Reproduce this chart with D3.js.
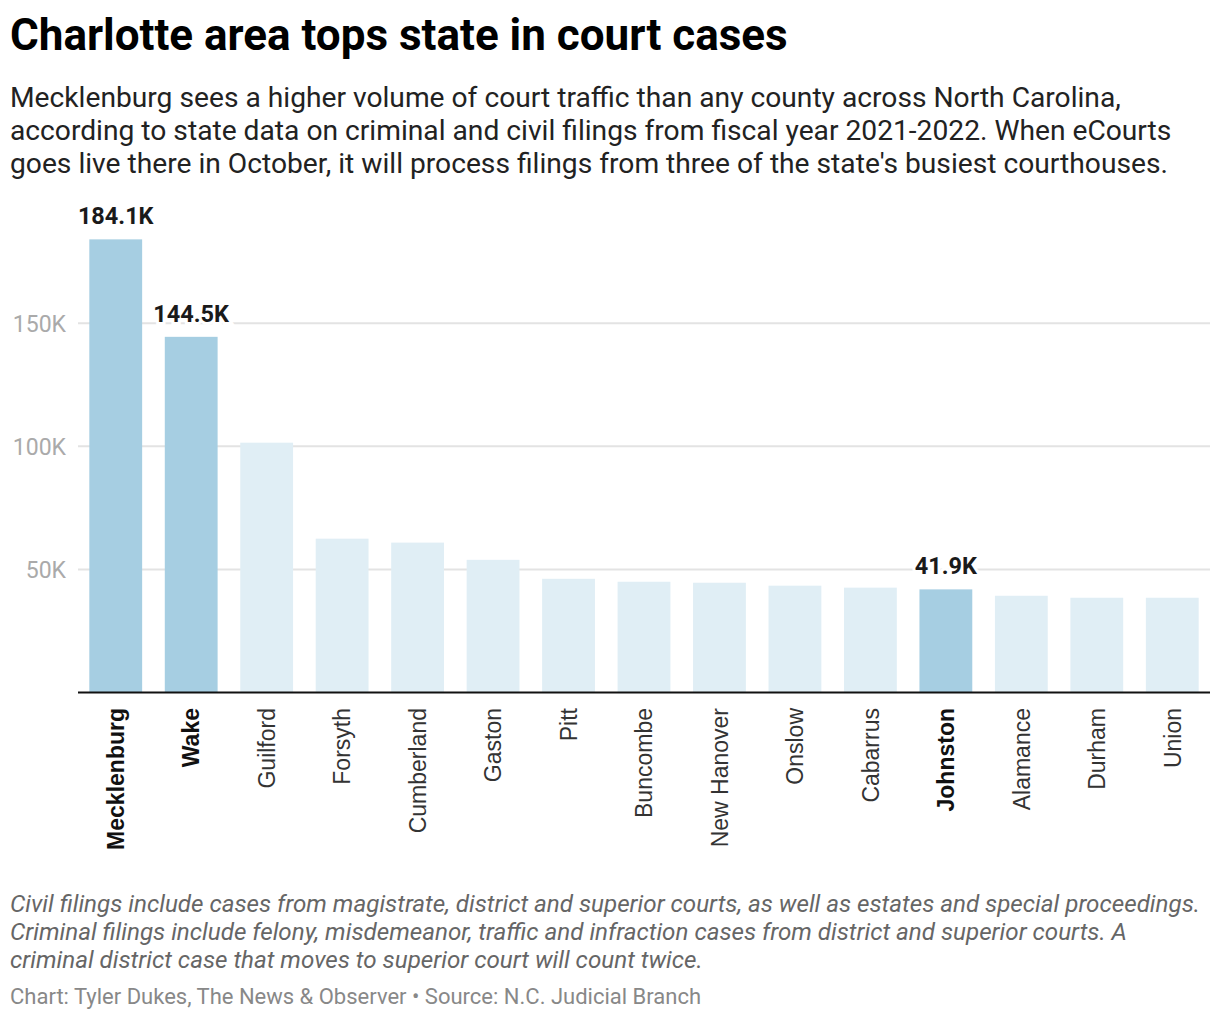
<!DOCTYPE html>
<html>
<head>
<meta charset="utf-8">
<script src="https://cdn.jsdelivr.net/npm/d3@7"></script>
<style>
  body { margin: 0; background: #fff; }
  svg { display: block; }
</style>
</head>
<body>
<div id="chart"></div>
<script>
// data
var counties = ['Mecklenburg', 'Wake', 'Guilford', 'Forsyth', 'Cumberland', 'Gaston', 'Pitt',
  'Buncombe', 'New Hanover', 'Onslow', 'Cabarrus', 'Johnston', 'Alamance', 'Durham', 'Union']
var filings = [184100, 144500, 101500, 62500, 60900, 53900, 46200,
  45000, 44600, 43400, 42600, 41900, 39300, 38500, 38500]
var highlighted = ['Mecklenburg', 'Wake', 'Johnston']
var yTicks = [50000, 100000, 150000]

var titleText = 'Charlotte area tops state in court cases'
var subtitleLines = [
  'Mecklenburg sees a higher volume of court traffic than any county across North Carolina,',
  'according to state data on criminal and civil filings from fiscal year 2021-2022. When eCourts',
  "goes live there in October, it will process filings from three of the state's busiest courthouses."
]
var noteLines = [
  'Civil filings include cases from magistrate, district and superior courts, as well as estates and special proceedings.',
  'Criminal filings include felony, misdemeanor, traffic and infraction cases from district and superior courts. A',
  'criminal district case that moves to superior court will count twice.'
]
var creditText = 'Chart: Tyler Dukes, The News & Observer \u2022 Source: N.C. Judicial Branch'

var width = 1220, height = 1020
var plotLeft = 78, plotRight = 1210
var baseY = 692.5

var svg = d3.select('#chart').append('svg')
  .attr('width', width).attr('height', height)
  .style('font-family', 'Roboto, sans-serif')

// header
svg.append('text')
  .attr('x', 10).attr('y', 50)
  .style('font-size', '44px').style('font-weight', 700).style('fill', '#000')
  .text(titleText)

svg.append('g').selectAll('text').data(subtitleLines).enter().append('text')
  .attr('x', 10).attr('y', function(d, i) { return 107 + i * 33 })
  .style('font-size', '28.2px').style('fill', '#222')
  .text(function(d) { return d })

// scales
var x = d3.scaleBand().domain(counties).range([plotLeft, plotRight])
  .paddingInner(0.3).paddingOuter(0.15)
var y = d3.scaleLinear().domain([0, 150000]).range([baseY, 323.3])

// gridlines + y labels
var yAxis = svg.append('g').attr('class', 'y-axis')
yAxis.selectAll('line').data(yTicks).enter().append('line')
  .attr('x1', plotLeft).attr('x2', plotRight)
  .attr('y1', function(d) { return y(d) }).attr('y2', function(d) { return y(d) })
  .style('stroke', '#e3e3e3').style('stroke-width', 2)
yAxis.selectAll('text').data(yTicks).enter().append('text')
  .attr('x', 66).attr('y', function(d) { return y(d) })
  .attr('dy', '0.36em').attr('text-anchor', 'end')
  .style('font-size', '23px').style('fill', '#aaa')
  .text(function(d) { return d3.format('~s')(d).replace('k', 'K') })

// bars
var data = counties.map(function(c, i) { return {county: c, value: filings[i]} })
var isHi = function(d) { return highlighted.indexOf(d.county) > -1 }

svg.append('g').selectAll('rect').data(data).enter().append('rect')
  .attr('x', function(d) { return x(d.county) })
  .attr('width', x.bandwidth())
  .attr('y', function(d) { return y(d.value) })
  .attr('height', function(d) { return baseY - y(d.value) })
  .style('fill', function(d) { return isHi(d) ? '#a6cee2' : '#e0eef5' })

// baseline
svg.append('line')
  .attr('x1', plotLeft).attr('x2', plotRight)
  .attr('y1', baseY).attr('y2', baseY)
  .style('stroke', '#111').style('stroke-width', 2)

// value labels on the highlighted bars
svg.append('g').selectAll('text').data(data.filter(isHi)).enter().append('text')
  .attr('x', function(d) { return x(d.county) + x.bandwidth() / 2 })
  .attr('y', function(d) { return y(d.value) - 15 })
  .attr('text-anchor', 'middle')
  .style('font-size', '23.5px').style('font-weight', 700).style('fill', '#1a1a1a')
  .style('stroke', '#fff').style('stroke-width', 6).style('paint-order', 'stroke')
  .text(function(d) { return d3.format('.1f')(d.value / 1000) + 'K' })

// rotated county names
svg.append('g').selectAll('text').data(data).enter().append('text')
  .attr('transform', function(d) {
    return 'translate(' + (x(d.county) + x.bandwidth() / 2) + ',708) rotate(-90)'
  })
  .attr('dy', '0.36em').attr('text-anchor', 'end')
  .style('font-family', '"Liberation Sans", Arial, sans-serif')
  .style('font-size', '23px')
  .style('font-weight', function(d) { return isHi(d) ? 700 : 400 })
  .style('fill', function(d) { return isHi(d) ? '#111' : '#333' })
  .text(function(d) { return d.county })

// notes and credit
svg.append('g').selectAll('text').data(noteLines).enter().append('text')
  .attr('x', 10).attr('y', function(d, i) { return 912 + i * 28 })
  .style('font-size', '24.2px').style('font-style', 'italic').style('fill', '#666')
  .text(function(d) { return d })

svg.append('text')
  .attr('x', 10).attr('y', 1004)
  .style('font-size', '22px').style('fill', '#888')
  .text(creditText)
</script>
</body>
</html>
